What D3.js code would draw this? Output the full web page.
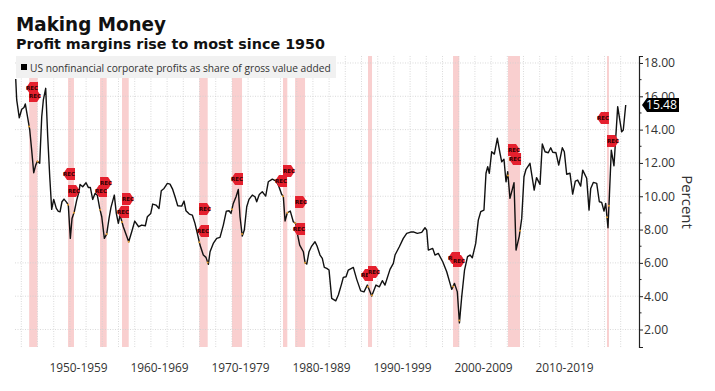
<!DOCTYPE html>
<html>

<head>
    <meta charset="utf-8">
    <script src="https://d3js.org/d3.v7.min.js"></script>
    <style>
        body { margin: 0; background: white; }
        svg { display: block; }
    </style>
    <script>
        const width = 715
        const height = 391

        // chart values
        const years = [1947.31, 1947.43, 1947.75, 1948.05, 1948.33, 1948.49, 1948.79, 1949.04, 1949.28, 1949.53, 1949.78, 1949.98,
            1950.27, 1950.52, 1950.72, 1951.01, 1951.26, 1951.51, 1951.75, 1952.0, 1952.32, 1952.57, 1952.78, 1953.02, 1953.27, 1953.6, 1953.8,
            1954.05, 1954.26, 1954.54, 1954.84, 1955.12, 1955.25, 1955.58, 1955.99, 1956.27, 1956.52, 1956.81, 1957.1, 1957.38, 1957.68, 1957.93,
            1958.25, 1958.54, 1958.83, 1959.07, 1959.48, 1959.73, 1959.98, 1960.19, 1960.59, 1961.26, 1961.63, 1962.0, 1962.49, 1962.86,
            1963.31, 1963.56, 1963.98, 1964.22, 1964.63, 1965.0, 1965.28, 1965.62, 1966.03, 1966.36, 1966.69, 1966.98, 1967.31, 1967.8,
            1968.09, 1968.33, 1968.74, 1969.11, 1969.44, 1969.73, 1970.06, 1970.47, 1970.8, 1971.09, 1971.3, 1971.7, 1972.12, 1972.53, 1972.94,
            1973.31, 1973.64, 1973.89, 1974.17, 1974.51, 1974.79, 1975.0, 1975.28, 1975.53, 1975.83, 1976.11, 1976.52, 1976.85, 1977.06, 1977.38, 1977.75,
            1978.17, 1978.49, 1978.99, 1979.41, 1979.73, 1980.15, 1980.35, 1980.56, 1980.84, 1981.21, 1981.58, 1981.88, 1982.12, 1982.37, 1982.82,
            1983.03, 1983.24, 1983.52, 1983.85, 1984.26, 1984.51, 1984.88, 1985.16, 1985.41, 1985.71, 1985.99, 1986.32, 1986.82, 1987.14, 1987.56, 1987.75,
            1988.09, 1988.37, 1988.99, 1989.41, 1989.9, 1990.31, 1990.72, 1991.26, 1991.79, 1992.2, 1992.57, 1992.9, 1993.52, 1993.93, 1994.14, 1994.67,
            1995.16, 1995.58, 1996.07, 1996.48, 1996.89, 1997.43, 1997.84, 1998.05, 1998.25, 1998.79, 1999.07, 1999.48, 2000.03, 2000.52, 2001.14, 2001.48, 2001.83,
            2002.09, 2002.37, 2002.72, 2003.09, 2003.4, 2003.68, 2004.1, 2004.42, 2004.72, 2005.12, 2005.37, 2005.58, 2005.78, 2006.07, 2006.4, 2006.77,
            2007.1, 2007.31, 2007.59, 2007.84, 2008.05, 2008.33, 2008.83, 2009.08, 2009.48, 2009.78, 2010.06, 2010.31, 2010.8, 2011.32, 2011.61,
            2012.04, 2012.32, 2012.66, 2013.06, 2013.36, 2013.61, 2014.01, 2014.35, 2014.79, 2015.04, 2015.33, 2015.74, 2016.07, 2016.4, 2016.69,
            2017.06, 2017.31, 2017.8, 2018.09, 2018.3, 2018.62, 2019.04, 2019.36, 2019.65, 2019.94, 2020.15, 2020.43, 2020.59, 2020.84, 2021.17, 2021.63, 2022.12, 2022.32, 2022.62]
        const margins = [17.04, 15.78, 14.71, 15.22, 15.33, 15.54, 14.70, 13.98, 12.77, 11.41, 11.87, 12.10,
            11.98, 14.77, 15.78, 16.48, 13.57, 11.17, 9.21, 9.81, 9.27, 9.09, 9.07, 9.67, 9.83, 9.63, 9.47,
            7.47, 8.67, 9.07, 9.77, 10.27, 10.71, 10.57, 10.81, 10.53, 10.53, 9.81, 10.17, 10.07, 9.27, 8.77,
            7.47, 7.73, 8.67, 9.33, 10.07, 8.97, 8.37, 8.87, 8.17, 7.27, 7.87, 8.51, 8.17, 8.27,
            8.23, 8.77, 8.97, 9.53, 9.47, 9.27, 10.33, 10.47, 10.77, 10.73, 10.41, 9.97, 9.43, 9.41,
            9.71, 9.13, 8.93, 8.87, 8.37, 7.77, 7.07, 6.47, 6.33, 5.91, 6.67, 7.17, 7.47, 7.53, 8.27,
            9.11, 9.13, 8.97, 9.57, 9.97, 10.41, 8.77, 7.61, 7.97, 9.37, 9.81, 10.07, 9.97, 9.67, 10.11, 10.27,
            10.01, 10.87, 11.03, 10.93, 10.67, 10.11, 9.97, 8.51, 9.01, 9.11, 8.47, 8.37, 7.67, 7.07, 6.67,
            6.01, 5.93, 6.67, 7.01, 7.27, 7.01, 6.47, 6.27, 5.73, 5.67, 5.57, 3.87, 3.72, 4.07, 4.77, 5.13,
            5.17, 5.57, 5.73, 5.01, 4.32, 4.26, 4.67, 4.01, 4.67, 4.56, 4.93, 4.67, 5.61, 5.97, 6.47, 6.97,
            7.47, 7.77, 7.85, 7.85, 7.77, 7.83, 8.11, 7.97, 6.77, 6.87, 6.47, 6.57, 6.07, 5.47, 4.41, 4.77, 4.26,
            2.40, 3.96, 5.57, 6.38, 6.47, 6.31, 7.17, 8.57, 9.07, 9.17, 11.38, 11.77, 11.38, 12.67, 12.53, 13.48,
            12.58, 12.07, 12.22, 10.87, 11.47, 9.87, 10.81, 6.77, 7.61, 8.67, 11.17, 11.62, 11.98, 10.37, 11.12,
            10.71, 13.14, 12.67, 12.61, 12.91, 12.64, 12.61, 11.87, 12.91, 12.67, 11.32, 11.38, 10.13, 10.91, 10.97,
            10.61, 11.57, 11.08, 9.17, 10.47, 10.83, 10.77, 9.67, 9.63, 9.11, 9.57, 8.11, 9.87, 12.77, 11.83, 15.38, 13.87, 13.98, 15.48]

        const recessionStarts = [1948.97, 1953.77, 1957.72, 1960.43, 1969.98, 1974.01, 1980.31, 1981.8, 1990.8, 2001.3, 2008.09, 2020.31]
        const recessionEnds = [1950.0, 1954.5, 1958.54, 1961.26, 1971.01, 1975.25, 1980.84, 1983.03, 1991.3, 2002.07, 2009.57, 2020.55]

        // REC flags: flat edge year, height on the value axis, which way it points
        const flagYears = [1950.06, 1948.95, 1954.63, 1953.77, 1957.72, 1958.58, 1960.43, 1961.3, 1969.94, 1971.17, 1975.37, 1980.31, 1980.8, 1981.8, 1983.03, 1991.42, 1990.8, 2002.16, 2001.3, 2008.09, 2009.7, 2020.55, 2020.31]
        const flagValues = [16.5, 16.02, 11.33, 10.31, 10.79, 10.31, 9.83, 9.05, 9.23, 7.91, 11.03, 11.51, 10.91, 9.65, 8.03, 5.27, 5.45, 6.29, 6.11, 12.77, 12.23, 14.7, 13.32]
        const flagPoints = ["left", "right", "left", "right", "right", "left", "right", "left", "right", "left", "left", "right", "left", "right", "left", "left", "right", "left", "right", "right", "left", "left", "right"]

        const decadeLabels = ["1950-1959", "1960-1969", "1970-1979", "1980-1989", "1990-1999", "2000-2009", "2010-2019"]
        const decadeCenters = [1955, 1965, 1975, 1985, 1995, 2005, 2015]
        const gridYears = d3.range(1948, 2024, 2)
        const yTicks = [2, 4, 6, 8, 10, 12, 14, 16, 18]
        const yMinorTicks = [3, 5, 7, 9, 11, 13, 15, 17]
        const lastValue = 15.48

        const plot = { left: 15, right: 639, top: 56, bottom: 347 }
        const fontFamily = "'Open Sans', sans-serif"

        function initialize() {
            const svg = d3.select("body").append("svg").attr("width", width).attr("height", height)
            svg.append("rect").attr("width", width).attr("height", height).attr("fill", "white")

            const x = d3.scaleLinear().domain([1947.22, 2024.26]).range([plot.left, plot.right])
            const y = d3.scaleLinear().domain([0.95, 18.42]).range([plot.bottom, plot.top])

            // recession bands
            svg.append("g").selectAll("rect")
                .data(recessionStarts)
                .join("rect")
                .attr("x", d => x(d))
                .attr("width", (d, i) => x(recessionEnds[i]) - x(d))
                .attr("y", plot.top)
                .attr("height", plot.bottom - plot.top)
                .attr("fill", "#f9cfcf")

            // dotted grid
            const grid = svg.append("g").attr("stroke", "#d0d0d0").attr("stroke-width", 0.8).attr("stroke-dasharray", "1 1.5")
            grid.selectAll(".v")
                .data(gridYears)
                .join("line")
                .attr("class", "v")
                .attr("x1", d => x(d)).attr("x2", d => x(d))
                .attr("y1", plot.top).attr("y2", plot.bottom)
            grid.selectAll(".h")
                .data(yTicks)
                .join("line")
                .attr("class", "h")
                .attr("x1", plot.left).attr("x2", plot.right)
                .attr("y1", d => y(d)).attr("y2", d => y(d))

            // legend
            svg.append("rect").attr("x", 16).attr("y", 56).attr("width", 320).attr("height", 22).attr("fill", "#f1f1f1")
            svg.append("rect").attr("x", 21).attr("y", 64).attr("width", 6).attr("height", 6).attr("fill", "#000")
            svg.append("text").attr("x", 30).attr("y", 72)
                .text("US nonfinancial corporate profits as share of gross value added")
                .style("font-family", fontFamily).style("font-size", "10.2px").attr("fill", "#333")

            // profit line
            const series = years.map((d, i) => [d, margins[i]])
            const line = d3.line().x(d => x(d[0])).y(d => y(d[1]))
            svg.append("path")
                .attr("d", line(series))
                .attr("fill", "none")
                .attr("stroke", "#111")
                .attr("stroke-width", 1.4)
                .attr("stroke-linejoin", "round")

            // small orange marks where the line crosses recession edges
            const valueAt = (year) => {
                const i = Math.min(Math.max(d3.bisectLeft(years, year), 1), years.length - 1)
                const t = (year - years[i - 1]) / (years[i] - years[i - 1])
                return margins[i - 1] + t * (margins[i] - margins[i - 1])
            }
            svg.append("g").selectAll("circle")
                .data(recessionStarts.concat(recessionEnds))
                .join("circle")
                .attr("cx", d => x(d))
                .attr("cy", d => y(valueAt(d)))
                .attr("r", 1)
                .attr("fill", "#e8a030")

            // REC flags
            const flags = svg.append("g").selectAll("g")
                .data(flagYears)
                .join("g")
                .attr("transform", (d, i) => `translate(${x(d)},${y(flagValues[i])})`)
            flags.append("path")
                .attr("d", (d, i) => {
                    const dir = flagPoints[i] == "right" ? 1 : -1
                    return `M0,-6 L${dir * 8},-6 L${dir * 12},0 L${dir * 8},6 L0,6 Z`
                })
                .attr("fill", "#e5202e")
            flags.append("text")
                .text("REC")
                .attr("x", (d, i) => flagPoints[i] == "right" ? 6 : -6)
                .attr("y", 2)
                .attr("text-anchor", "middle")
                .style("font-family", "'DejaVu Sans', sans-serif")
                .style("font-weight", "bold")
                .style("font-size", "5.5px")
                .attr("fill", "#300")

            // right axis
            const yAxis = d3.axisRight(y).tickValues(yTicks).tickFormat(d3.format(".2f")).tickSize(4).tickPadding(1)
            const yG = svg.append("g").attr("transform", `translate(${plot.right},0)`).call(yAxis)
            yG.select(".domain").attr("stroke", "#222").attr("stroke-width", 1.2)
            yG.selectAll("text").style("font-family", fontFamily).style("font-size", "12.2px").attr("fill", "#333")
            yG.selectAll(".tick line").attr("stroke", "#222")
            yG.selectAll(".minor")
                .data(yMinorTicks)
                .join("line")
                .attr("class", "minor")
                .attr("x1", 0).attr("x2", 2.5)
                .attr("y1", d => y(d)).attr("y2", d => y(d))
                .attr("stroke", "#222")

            // last value tag
            const tag = svg.append("g").attr("transform", `translate(${plot.right + 3},${y(lastValue)})`)
            tag.append("path").attr("d", "M0,0 L5,-7 L37,-7 L37,7 L5,7 Z").attr("fill", "#000")
            tag.append("text").text(d3.format(".2f")(lastValue))
                .attr("x", 19.5).attr("y", 4.5).attr("text-anchor", "middle")
                .style("font-family", fontFamily).style("font-size", "12.2px").attr("fill", "white")

            svg.append("text").text("Percent")
                .attr("transform", `translate(682,202) rotate(90)`)
                .attr("text-anchor", "middle")
                .style("font-family", fontFamily).style("font-size", "15px").attr("fill", "#333")

            // decade labels
            const xAxis = d3.axisBottom(x).tickValues(decadeCenters).tickSize(0).tickPadding(0)
                .tickFormat((d, i) => decadeLabels[i])
            const xG = svg.append("g").attr("transform", "translate(0,364)").call(xAxis)
            xG.select(".domain").remove()
            xG.selectAll("text").style("font-family", fontFamily).style("font-size", "11.9px").attr("fill", "#333")

            // titles
            svg.append("text").text("Making Money").attr("x", 16).attr("y", 31)
                .attr("textLength", 150).attr("lengthAdjust", "spacingAndGlyphs")
                .style("font-family", "'DejaVu Sans', sans-serif").style("font-weight", "bold").style("font-size", "20px").attr("fill", "#111")
            svg.append("text").text("Profit margins rise to most since 1950").attr("x", 16).attr("y", 49)
                .attr("textLength", 309).attr("lengthAdjust", "spacingAndGlyphs")
                .style("font-family", "'DejaVu Sans', sans-serif").style("font-weight", "bold").style("font-size", "14.5px").attr("fill", "#111")
        }
    </script>
</head>

<body onload="initialize()">
</body>

</html>
